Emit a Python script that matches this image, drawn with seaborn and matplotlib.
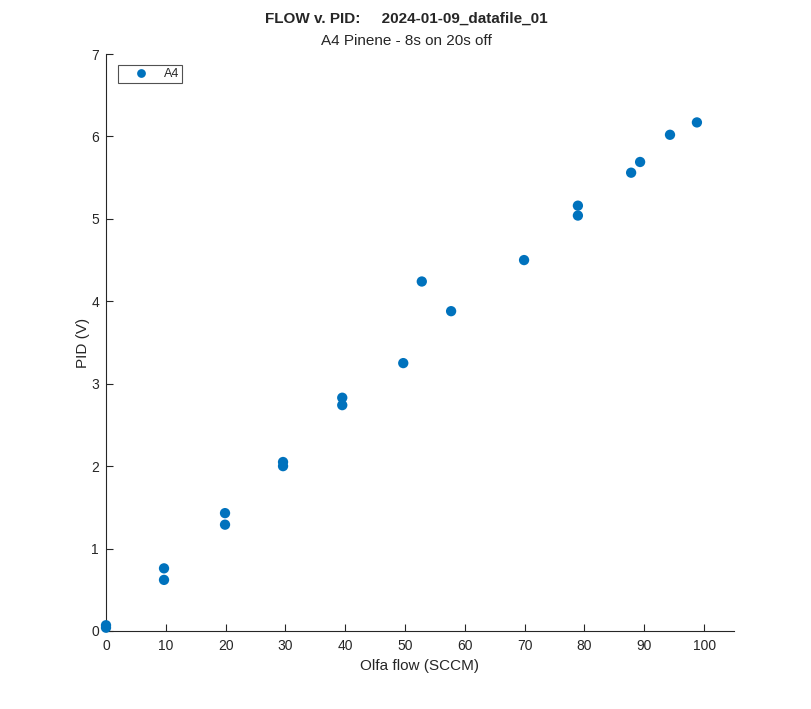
import numpy as np
import pandas as pd
import matplotlib
matplotlib.use("Agg")
import matplotlib.pyplot as plt
import seaborn as sns

# Olfa flow (SCCM) and PID reading (V)
flow = [0.0, 0.0, 9.7, 9.7, 19.9, 19.9, 29.6, 29.6, 39.5, 39.5,
        49.7, 52.8, 57.7, 69.9, 78.9, 78.9, 87.8, 89.3, 94.3, 98.8]
pid = [0.04, 0.07, 0.62, 0.76, 1.29, 1.43, 2.00, 2.05, 2.74, 2.83,
       3.25, 4.24, 3.88, 4.50, 5.04, 5.16, 5.56, 5.69, 6.02, 6.17]
series = ["A4"] * len(flow)

x_ticks = list(range(0, 101, 10))
y_ticks = list(range(0, 8))

df = pd.DataFrame({"flow": flow, "pid": pid, "vial": series})

sns.set_style("white")
plt.rcParams["font.family"] = ["Liberation Sans", "DejaVu Sans"]

fig = plt.figure(figsize=(8.12, 7.09), dpi=100)
ax = fig.add_axes([106 / 812, 1 - 631 / 709, (734 - 106) / 812, (631 - 54) / 709])

sns.scatterplot(data=df, x="flow", y="pid", hue="vial", palette=["#0072BD"],
                s=55, edgecolor="none", clip_on=False, zorder=3, ax=ax)

ax.set_xlim(0, 105)
ax.set_ylim(0, 7)
ax.set_xticks(x_ticks)
ax.set_yticks(y_ticks)
ax.tick_params(bottom=True, left=True, direction="in", length=5, width=0.8,
               labelsize=10, colors="#262626")
ax.tick_params(axis="x", pad=6)
ax.tick_params(axis="y", pad=5)
for side in ["top", "right"]:
    ax.spines[side].set_visible(False)
for side in ["left", "bottom"]:
    ax.spines[side].set_color("#262626")
    ax.spines[side].set_linewidth(0.8)

ax.set_xlabel("Olfa flow (SCCM)", fontsize=11, color="#262626", labelpad=4)
ax.set_ylabel("PID (V)", fontsize=11, color="#262626", labelpad=0.5)

fig.text(0.5, 1 - 19 / 709, "FLOW v. PID:     2024-01-09_datafile_01",
         ha="center", va="center", fontsize=11, fontweight="bold")
fig.text(0.5, 1 - 41 / 709, "A4 Pinene - 8s on 20s off",
         ha="center", va="center", fontsize=11)

leg = ax.legend(loc="upper left", bbox_to_anchor=(0.019, 0.981), frameon=True,
                fancybox=False, edgecolor="#262626", fontsize=9,
                handletextpad=0.2, borderpad=0.25, borderaxespad=0,
                markerscale=0.85, handlelength=3.2)
leg.get_frame().set_linewidth(0.8)

fig.savefig("out.png", dpi=100)
